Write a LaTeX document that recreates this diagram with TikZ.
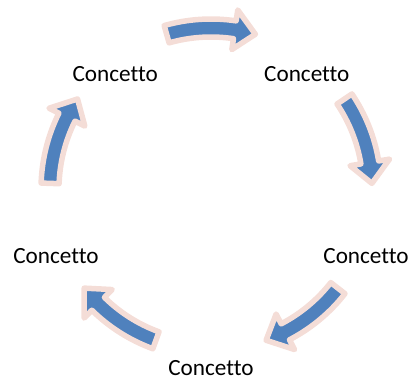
\documentclass[tikz,border=0pt]{standalone}
\usepackage{fontspec}
\setmainfont{Carlito}[Ligatures=NoCommon]
\usetikzlibrary{positioning, calc}
\definecolor{cycleblue}{RGB}{79,129,189}
\definecolor{cyclepink}{RGB}{244,221,215}

\begin{document}
\begin{tikzpicture}[
    x=1pt, y=1pt,
    concept/.style={inner sep=0pt, font=\fontsize{23.2}{28}\selectfont, text=black},
    cyclearrow/.style={fill=cycleblue, draw=cyclepink, line width=5.5pt, line join=round}
]

    % canvas of the cycle
    \useasboundingbox (0,0) rectangle (414,383);

    % centre of the label ring and centre of the arrow ring
    \coordinate (ring) at (211,177.5);
    \coordinate (hub) at (211,194);

    % Concetto labels on a pentagon
    \foreach \ang [count=\i] in {126,54,-18,-90,-162}
        \node[concept] (cpt-\i) at ($(ring)+(\ang:163)$) {Concetto};

    % curved block arrows, clockwise, between the labels
    \begin{scope}[shift={(hub)}]
    \foreach \m [evaluate=\m as \a using \m+16, evaluate=\m as \b using \m-16, evaluate=\m as \c using \m-8.5] in {90,18,-54,-126,-198}
        \draw[cyclearrow] (\a:170) arc[start angle=\a, end angle=\c, radius=170]
            -- (\c:181) -- (\b:161) -- (\c:141) -- (\c:152)
            arc[start angle=\c, end angle=\a, radius=152] -- cycle;
    \end{scope}

\end{tikzpicture}
\end{document}
